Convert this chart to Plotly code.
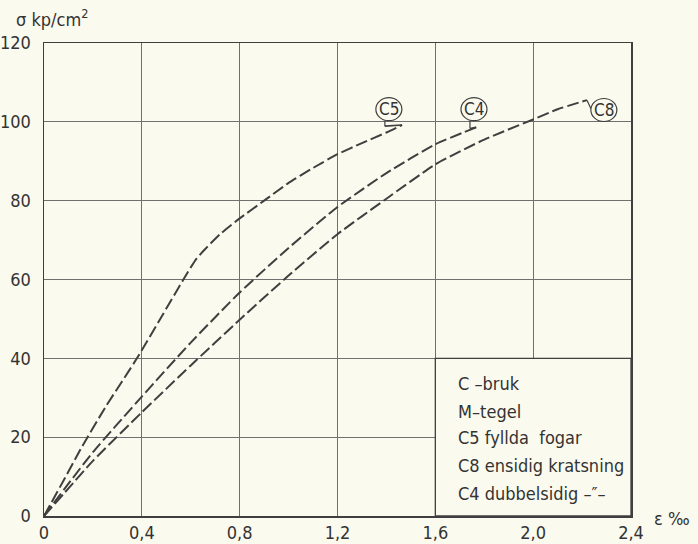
import plotly.graph_objects as go

# ---- data (strain ‰, stress kp/cm²) ----
c5_eps = [0, 0.08, 0.15, 0.25, 0.38, 0.48, 0.57, 0.62, 0.66, 0.72, 0.8, 0.9, 1.0, 1.1, 1.2, 1.3, 1.4, 1.464]
c5_sig = [0, 9.0, 17.0, 27.5, 40.0, 50.5, 60.0, 65.0, 67.8, 71.5, 75.5, 80.0, 84.5, 88.3, 91.8, 94.6, 97.3, 99.2]

c4_eps = [0, 0.1, 0.2, 0.4, 0.6, 0.8, 1.0, 1.2, 1.4, 1.6, 1.767]
c4_sig = [0, 8.2, 16.2, 30.3, 44.0, 56.7, 68.0, 78.4, 87.0, 94.3, 98.6]

c8_eps = [0, 0.1, 0.2, 0.4, 0.6, 0.8, 1.0, 1.2, 1.4, 1.6, 1.8, 2.0, 2.1, 2.22]
c8_sig = [0, 7.0, 14.0, 26.3, 38.2, 49.8, 61.0, 71.5, 80.5, 89.2, 95.5, 100.6, 103.2, 105.5]

curve_names = ["C5", "C4", "C8"]
label_x = [1.41, 1.758, 2.289]
label_y = [103.2, 103.2, 103.0]

x_ticks = [0, 0.4, 0.8, 1.2, 1.6, 2.0, 2.4]
x_tick_text = ["0", "0,4", "0,8", "1,2", "1,6", "2,0", "2,4"]
y_ticks = [0, 20, 40, 60, 80, 100, 120]
y_tick_text = ["0", "20", "40", "60", "80", "100", "120"]

legend_lines = ["C –bruk", "M–tegel", "C5 fyllda  fogar", "C8 ensidig kratsning", "C4 dubbelsidig –″–"]
legend_y = [33.7, 26.6, 20.0, 12.9, 5.8]

# ---- style ----
BG = "#fbfaee"
INK = "#3f3f3f"
GRID = "#707070"
TXT = "#333333"
FONT = "Liberation Sans Narrow, DejaVu Sans Condensed, Roboto, sans-serif"

W, H = 698, 544
L, R, T, B = 44, 67, 43, 28
pw, ph = W - L - R, H - T - B

fig = go.Figure()
for xs, ys in [(c5_eps, c5_sig), (c4_eps, c4_sig), (c8_eps, c8_sig)]:
    fig.add_trace(go.Scatter(
        x=xs, y=ys, mode="lines",
        line=dict(color=INK, width=2, dash="12px,4px", shape="spline", smoothing=0.5),
        hoverinfo="skip", showlegend=False,
    ))

shapes = []
# legend box covering the grid
shapes.append(dict(type="rect", xref="x", yref="y", x0=1.6, x1=2.4, y0=0, y1=40,
                   fillcolor=BG, line=dict(color=INK, width=1.3), layer="above"))
# circled curve labels
for xc, yc in zip(label_x, label_y):
    shapes.append(dict(type="circle", xref="x", yref="y", xsizemode="pixel", ysizemode="pixel",
                       xanchor=xc, yanchor=yc, x0=-13, x1=13, y0=-11.5, y1=11.5,
                       line=dict(color=INK, width=1.2), fillcolor="rgba(0,0,0,0)"))
# leaders from labels to curve ends
ends = [(c5_eps[-1], c5_sig[-1]), (c4_eps[-1], c4_sig[-1]), (c8_eps[-1], c8_sig[-1])]
px_per_y = ph / 120.0
px_per_x = pw / 2.4
for i, (xc, yc) in enumerate(zip(label_x, label_y)):
    ex, ey = ends[i]
    if i < 2:
        sx, sy = xc - 4 / px_per_x, yc - 11.5 / px_per_y
        shapes.append(dict(type="line", xref="x", yref="y", x0=sx, y0=sy, x1=sx, y1=ey - 0.3,
                           line=dict(color=INK, width=1.2), layer="above"))
        shapes.append(dict(type="line", xref="x", yref="y", x0=sx, y0=ey - 0.3, x1=ex, y1=ey,
                           line=dict(color=INK, width=1.6), layer="above"))
    else:
        sx, sy = xc - 13 / px_per_x, yc + 1.5 / px_per_y
        shapes.append(dict(type="line", xref="x", yref="y", x0=ex, y0=ey, x1=sx, y1=sy,
                           line=dict(color=INK, width=1.2), layer="above"))

annotations = []
for name, xc, yc in zip(curve_names, label_x, label_y):
    annotations.append(dict(x=xc, y=yc, xref="x", yref="y", text=name, showarrow=False,
                            font=dict(family=FONT, size=17, color=TXT)))
for txt, yy in zip(legend_lines, legend_y):
    annotations.append(dict(x=1.685, y=yy, xref="x", yref="y", text=txt, showarrow=False,
                            xanchor="left", yanchor="middle",
                            font=dict(family=FONT, size=18, color=TXT)))
# axis titles (positioned in pixels relative to the plot area)
annotations.append(dict(x=(14 - L) / pw, y=1 + (T - 18) / ph, xref="paper", yref="paper",
                        text="σ kp/cm<sup>2</sup>", showarrow=False, xanchor="left", yanchor="middle",
                        font=dict(family=FONT, size=18, color=TXT)))
annotations.append(dict(x=(652 - L) / pw, y=-(518 - (T + ph)) / ph,
                        xref="paper", yref="paper", text="ε ‰", showarrow=False,
                        xanchor="left", yanchor="middle",
                        font=dict(family=FONT, size=18, color=TXT)))

fig.update_layout(
    width=W, height=H,
    margin=dict(l=L, r=R, t=T, b=B, pad=0, autoexpand=False),
    paper_bgcolor=BG, plot_bgcolor=BG,
    shapes=shapes, annotations=annotations,
    showlegend=False,
)
fig.update_xaxes(range=[0, 2.4], tickvals=x_ticks, ticktext=x_tick_text,
                 showgrid=True, gridcolor=GRID, gridwidth=1, zeroline=False,
                 showline=True, linecolor=INK, linewidth=1.5, mirror=True,
                 ticks="", ticklabelstandoff=0, automargin=False,
                 tickfont=dict(family=FONT, size=18, color=TXT))
fig.update_yaxes(range=[0, 120], tickvals=y_ticks, ticktext=y_tick_text,
                 showgrid=True, gridcolor=GRID, gridwidth=1, zeroline=False,
                 showline=True, linecolor=INK, linewidth=1.5, mirror=True,
                 ticks="", ticklabelstandoff=8, automargin=False,
                 tickfont=dict(family=FONT, size=18, color=TXT))

fig.write_html(
    "out.html",
    config={"displayModeBar": False, "staticPlot": True},
    post_script="document.body.style.margin='0';document.body.style.overflow='hidden';"
                "document.body.style.background='" + BG + "';",
)
